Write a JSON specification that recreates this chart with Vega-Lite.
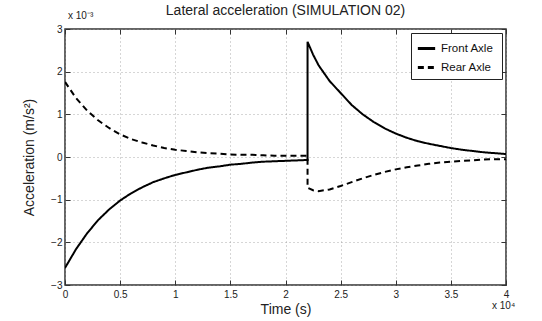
{
  "$schema": "https://vega.github.io/schema/vega-lite/v6.json",
  "width": 441,
  "height": 256,
  "autosize": "none",
  "padding": {"left": 65, "top": 29, "right": 36, "bottom": 36},
  "background": "white",
  "title": {"text": "Lateral acceleration (SIMULATION 02)", "font": "Liberation Sans", "fontSize": 14, "fontWeight": "normal", "color": "#222", "offset": -7},
  "config": {
    "view": {"stroke": "#333", "strokeWidth": 1.5},
    "font": "Liberation Sans",
    "axis": {"labelFont": "Liberation Sans", "titleFont": "Liberation Sans", "labelColor": "#222", "titleColor": "#222", "domain": false, "tickColor": "#333", "gridColor": "#999", "gridDash": [1, 3], "gridOpacity": 0.8, "labelOverlap": false, "labelBound": false, "labelFlush": false}
  },
  "datasets": {
    "curves": [
      {"series": "Front  Axle", "i": 0, "t": 0.0, "a": -2.60},
      {"series": "Front  Axle", "i": 1, "t": 0.1, "a": -2.16},
      {"series": "Front  Axle", "i": 2, "t": 0.2, "a": -1.79},
      {"series": "Front  Axle", "i": 3, "t": 0.3, "a": -1.48},
      {"series": "Front  Axle", "i": 4, "t": 0.4, "a": -1.23},
      {"series": "Front  Axle", "i": 5, "t": 0.5, "a": -1.02},
      {"series": "Front  Axle", "i": 6, "t": 0.6, "a": -0.85},
      {"series": "Front  Axle", "i": 7, "t": 0.7, "a": -0.71},
      {"series": "Front  Axle", "i": 8, "t": 0.8, "a": -0.59},
      {"series": "Front  Axle", "i": 9, "t": 0.9, "a": -0.50},
      {"series": "Front  Axle", "i": 10, "t": 1.0, "a": -0.42},
      {"series": "Front  Axle", "i": 11, "t": 1.1, "a": -0.36},
      {"series": "Front  Axle", "i": 12, "t": 1.2, "a": -0.30},
      {"series": "Front  Axle", "i": 13, "t": 1.3, "a": -0.25},
      {"series": "Front  Axle", "i": 14, "t": 1.4, "a": -0.22},
      {"series": "Front  Axle", "i": 15, "t": 1.5, "a": -0.18},
      {"series": "Front  Axle", "i": 16, "t": 1.6, "a": -0.16},
      {"series": "Front  Axle", "i": 17, "t": 1.7, "a": -0.13},
      {"series": "Front  Axle", "i": 18, "t": 1.8, "a": -0.11},
      {"series": "Front  Axle", "i": 19, "t": 1.9, "a": -0.10},
      {"series": "Front  Axle", "i": 20, "t": 2.0, "a": -0.09},
      {"series": "Front  Axle", "i": 21, "t": 2.1, "a": -0.08},
      {"series": "Front  Axle", "i": 22, "t": 2.2, "a": -0.07},
      {"series": "Front  Axle", "i": 23, "t": 2.2, "a": 2.70},
      {"series": "Front  Axle", "i": 24, "t": 2.25, "a": 2.40},
      {"series": "Front  Axle", "i": 25, "t": 2.3, "a": 2.15},
      {"series": "Front  Axle", "i": 26, "t": 2.4, "a": 1.78},
      {"series": "Front  Axle", "i": 27, "t": 2.5, "a": 1.50},
      {"series": "Front  Axle", "i": 28, "t": 2.6, "a": 1.22},
      {"series": "Front  Axle", "i": 29, "t": 2.7, "a": 1.00},
      {"series": "Front  Axle", "i": 30, "t": 2.8, "a": 0.82},
      {"series": "Front  Axle", "i": 31, "t": 2.9, "a": 0.67},
      {"series": "Front  Axle", "i": 32, "t": 3.0, "a": 0.55},
      {"series": "Front  Axle", "i": 33, "t": 3.1, "a": 0.45},
      {"series": "Front  Axle", "i": 34, "t": 3.2, "a": 0.37},
      {"series": "Front  Axle", "i": 35, "t": 3.3, "a": 0.31},
      {"series": "Front  Axle", "i": 36, "t": 3.4, "a": 0.26},
      {"series": "Front  Axle", "i": 37, "t": 3.5, "a": 0.21},
      {"series": "Front  Axle", "i": 38, "t": 3.6, "a": 0.17},
      {"series": "Front  Axle", "i": 39, "t": 3.7, "a": 0.14},
      {"series": "Front  Axle", "i": 40, "t": 3.8, "a": 0.11},
      {"series": "Front  Axle", "i": 41, "t": 3.9, "a": 0.09},
      {"series": "Front  Axle", "i": 42, "t": 4.0, "a": 0.07},
      {"series": "Rear  Axle", "i": 0, "t": 0.0, "a": 1.76},
      {"series": "Rear  Axle", "i": 1, "t": 0.1, "a": 1.38},
      {"series": "Rear  Axle", "i": 2, "t": 0.2, "a": 1.09},
      {"series": "Rear  Axle", "i": 3, "t": 0.3, "a": 0.86},
      {"series": "Rear  Axle", "i": 4, "t": 0.4, "a": 0.68},
      {"series": "Rear  Axle", "i": 5, "t": 0.5, "a": 0.53},
      {"series": "Rear  Axle", "i": 6, "t": 0.6, "a": 0.42},
      {"series": "Rear  Axle", "i": 7, "t": 0.7, "a": 0.34},
      {"series": "Rear  Axle", "i": 8, "t": 0.8, "a": 0.27},
      {"series": "Rear  Axle", "i": 9, "t": 0.9, "a": 0.21},
      {"series": "Rear  Axle", "i": 10, "t": 1.0, "a": 0.17},
      {"series": "Rear  Axle", "i": 11, "t": 1.1, "a": 0.14},
      {"series": "Rear  Axle", "i": 12, "t": 1.2, "a": 0.11},
      {"series": "Rear  Axle", "i": 13, "t": 1.3, "a": 0.09},
      {"series": "Rear  Axle", "i": 14, "t": 1.4, "a": 0.08},
      {"series": "Rear  Axle", "i": 15, "t": 1.5, "a": 0.06},
      {"series": "Rear  Axle", "i": 16, "t": 1.6, "a": 0.05},
      {"series": "Rear  Axle", "i": 17, "t": 1.7, "a": 0.05},
      {"series": "Rear  Axle", "i": 18, "t": 1.8, "a": 0.04},
      {"series": "Rear  Axle", "i": 19, "t": 1.9, "a": 0.03},
      {"series": "Rear  Axle", "i": 20, "t": 2.0, "a": 0.03},
      {"series": "Rear  Axle", "i": 21, "t": 2.1, "a": 0.03},
      {"series": "Rear  Axle", "i": 22, "t": 2.2, "a": 0.03},
      {"series": "Rear  Axle", "i": 23, "t": 2.2, "a": -0.72},
      {"series": "Rear  Axle", "i": 24, "t": 2.25, "a": -0.78},
      {"series": "Rear  Axle", "i": 25, "t": 2.3, "a": -0.80},
      {"series": "Rear  Axle", "i": 26, "t": 2.4, "a": -0.76},
      {"series": "Rear  Axle", "i": 27, "t": 2.5, "a": -0.68},
      {"series": "Rear  Axle", "i": 28, "t": 2.6, "a": -0.59},
      {"series": "Rear  Axle", "i": 29, "t": 2.7, "a": -0.50},
      {"series": "Rear  Axle", "i": 30, "t": 2.8, "a": -0.42},
      {"series": "Rear  Axle", "i": 31, "t": 2.9, "a": -0.35},
      {"series": "Rear  Axle", "i": 32, "t": 3.0, "a": -0.29},
      {"series": "Rear  Axle", "i": 33, "t": 3.1, "a": -0.24},
      {"series": "Rear  Axle", "i": 34, "t": 3.2, "a": -0.20},
      {"series": "Rear  Axle", "i": 35, "t": 3.3, "a": -0.16},
      {"series": "Rear  Axle", "i": 36, "t": 3.4, "a": -0.13},
      {"series": "Rear  Axle", "i": 37, "t": 3.5, "a": -0.11},
      {"series": "Rear  Axle", "i": 38, "t": 3.6, "a": -0.09},
      {"series": "Rear  Axle", "i": 39, "t": 3.7, "a": -0.08},
      {"series": "Rear  Axle", "i": 40, "t": 3.8, "a": -0.06},
      {"series": "Rear  Axle", "i": 41, "t": 3.9, "a": -0.05},
      {"series": "Rear  Axle", "i": 42, "t": 4.0, "a": -0.05}
    ],
    "exp3": [{"t": 0, "a": 3, "label": "x 10⁻³"}],
    "exp4": [{"t": 4, "a": -3, "label": "x 10⁴"}]
  },
  "layer": [
    {
      "data": {"name": "curves"},
      "mark": {"type": "line", "strokeWidth": 2, "color": "black", "clip": true},
      "encoding": {
        "x": {"field": "t", "type": "quantitative", "scale": {"domain": [0, 4], "nice": false, "zero": false},
              "axis": {"orient": "bottom", "values": [0, 0.5, 1, 1.5, 2, 2.5, 3, 3.5, 4], "format": "~g", "grid": true, "tickSize": -5, "labelPadding": 9, "labelFontSize": 10, "title": "Time (s)", "titleFontSize": 14, "titleFontWeight": "normal", "titlePadding": 3}},
        "y": {"field": "a", "type": "quantitative", "scale": {"domain": [-3, 3], "nice": false, "zero": false},
              "axis": {"orient": "left", "values": [-3, -2, -1, 0, 1, 2, 3], "format": "~g", "grid": true, "tickSize": -5, "labelPadding": 8, "labelFontSize": 10, "title": "Acceleration (m/s²)", "titleFontSize": 14, "titleFontWeight": "normal", "titlePadding": 14}},
        "strokeDash": {"field": "series", "type": "nominal",
          "scale": {"domain": ["Front  Axle", "Rear  Axle"], "range": [[1, 0], [6, 4]]},
          "legend": {"title": null, "orient": "top-right", "offset": 4, "fillColor": "white", "strokeColor": "#222", "padding": 5, "labelFontSize": 11.5, "labelColor": "#111", "symbolType": "stroke", "symbolStrokeWidth": 3, "symbolSize": 300, "symbolStrokeColor": "black", "rowPadding": 2}},
        "detail": {"field": "series"},
        "order": {"field": "i", "type": "quantitative"}
      }
    },
    {
      "data": {"name": "exp3"},
      "mark": {"type": "text", "align": "left", "baseline": "bottom", "dx": 3, "dy": -8, "fontSize": 10, "color": "#222"},
      "encoding": {
        "x": {"field": "t", "type": "quantitative", "axis": {"orient": "top", "values": [0, 0.5, 1, 1.5, 2, 2.5, 3, 3.5, 4], "labels": false, "tickSize": -5, "grid": false, "title": null}},
        "y": {"field": "a", "type": "quantitative", "axis": {"orient": "right", "values": [-3, -2, -1, 0, 1, 2, 3], "labels": false, "tickSize": -5, "grid": false, "title": null}},
        "text": {"field": "label"}
      }
    },
    {
      "data": {"name": "exp4"},
      "mark": {"type": "text", "align": "left", "baseline": "top", "dx": -14, "dy": 16, "fontSize": 10, "color": "#222"},
      "encoding": {
        "x": {"field": "t", "type": "quantitative", "axis": null},
        "y": {"field": "a", "type": "quantitative", "axis": null},
        "text": {"field": "label"}
      }
    }
  ],
  "resolve": {"axis": {"x": "independent", "y": "independent"}}
}
